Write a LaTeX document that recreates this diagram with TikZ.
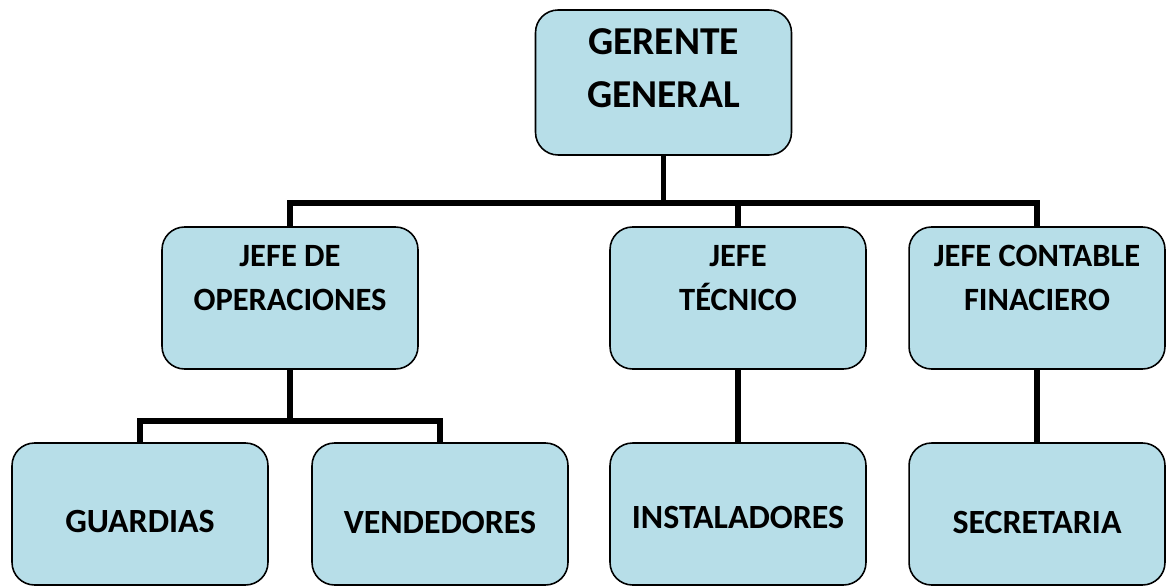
\documentclass[tikz,border=0pt]{standalone}
\usepackage{fontspec}
\setmainfont{Carlito}
\definecolor{cajaazul}{HTML}{B7DEE8}
\tikzset{
  caja/.style={draw=black, line width=0.9pt, fill=cajaazul, rounded corners=0.45cm,
    minimum width=5.12cm, minimum height=2.84cm, inner sep=0pt},
  texto/.style={font=\bfseries\fontsize{18.5}{25.5}\selectfont, align=center},
  textobajo/.style={font=\bfseries\fontsize{19.3}{25.5}\selectfont, align=center},
  textogrande/.style={font=\bfseries\fontsize{22.5}{30}\selectfont, align=center},
  linea/.style={line width=3pt}
}
\begin{document}
\begin{tikzpicture}[x=0.02cm,y=-0.02cm]
\useasboundingbox (0,0) rectangle (1172,587);
% gerencia
\node[caja, minimum height=2.9cm, label={[textogrande, yshift=0.28cm]center:GERENTE\\GENERAL}] (gg) at (663.5,82.5) {};
% jefaturas
\node[caja, label={[texto, yshift=0.4cm]center:JEFE DE\\OPERACIONES}] (jo) at (290,298) {};
\node[caja, label={[texto, yshift=0.4cm]center:JEFE\\TÉCNICO}] (jt) at (738,298) {};
\node[caja, label={[texto, yshift=0.4cm]center:JEFE CONTABLE\\FINACIERO}] (jc) at (1037,298) {};
% personal
\node[caja, label={[textobajo, yshift=-0.16cm]center:GUARDIAS}] (gu) at (140,514) {};
\node[caja, label={[textobajo, yshift=-0.16cm]center:VENDEDORES}] (ve) at (440,514) {};
\node[caja, label={[textobajo, yshift=-0.06cm]center:INSTALADORES}] (in) at (738,514) {};
\node[caja, label={[textobajo, yshift=-0.16cm]center:SECRETARIA}] (se) at (1037,514) {};
\coordinate (barra) at (0,203);
\coordinate (barrab) at (0,421);
\draw[linea] (gg.south) -- (gg.south |- barra);
\draw[linea] (jo.north) -- (jo.north |- barra) -- (jc.north |- barra) -- (jc.north);
\draw[linea] (jt.north) -- (jt.north |- barra);
\draw[linea] (jo.south) -- (jo.south |- barrab);
\draw[linea] (gu.north) -- (gu.north |- barrab) -- (ve.north |- barrab) -- (ve.north);
\draw[linea] (jt.south) -- (in.north);
\draw[linea] (jc.south) -- (se.north);
\end{tikzpicture}
\end{document}
